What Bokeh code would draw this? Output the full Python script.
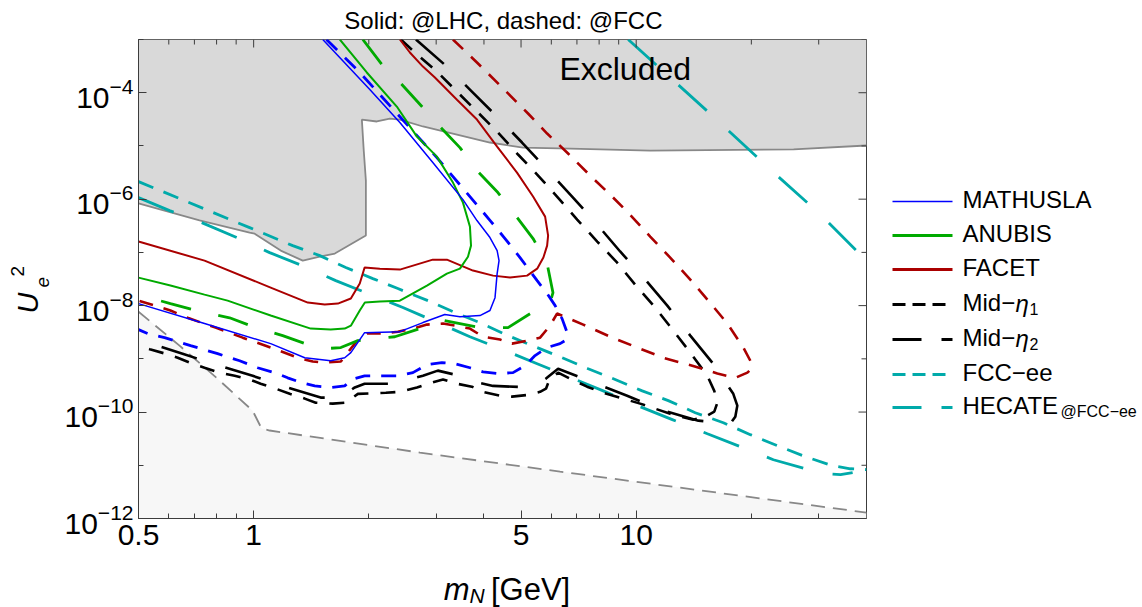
import math
from bokeh.plotting import figure
from bokeh.models import Range1d, FixedTicker, LogTickFormatter, CustomJSTickFormatter, Label
from bokeh.layouts import row, column
from bokeh.embed import file_html
from bokeh.resources import INLINE
from bokeh.core.properties import value

FONT = "Liberation Sans"

# ---------------- axes / ticks ----------------
x_ticks = [0.5, 1, 5, 10]
x_minor = [0.6, 0.7, 0.8, 0.9, 2, 3, 4, 6, 7, 8, 9, 20, 30]
y_ticks = [1e-12, 1e-10, 1e-8, 1e-6, 1e-4]
y_minor = [1e-11, 1e-9, 1e-7, 1e-5, 1e-3]
X_MIN, X_MAX, Y_MIN, Y_MAX = 0.5, 40, 1e-12, 1e-3

# ---------------- data (m_N [GeV], U_e^2) ----------------
excl_m = [0.5, 0.722, 0.976, 1.006, 1.177, 1.344, 1.489, 1.63, 1.965, 1.965, 1.94, 1.918, 2.099, 2.27,
          2.411, 2.77, 3.40, 4.147, 5.06, 6.72, 10.88, 25.8, 40]
excl_u = [8.3e-7, 4.0e-7, 2.35e-7, 2.25e-7, 1.08e-7, 7.0e-8, 8.3e-8, 9.5e-8, 2.07e-7, 2.24e-6, 8.2e-6,
          3.13e-5, 2.88e-5, 3.27e-5, 3.13e-5, 2.32e-5, 1.64e-5, 1.16e-5, 9.3e-6, 8.9e-6, 8.2e-6, 8.6e-6, 1.02e-5]

bbn_m = [0.5, 0.640, 0.80, 0.994, 1.049, 1.101, 2.72, 6.324, 40]
bbn_u = [7.7e-9, 1.77e-9, 4.4e-10, 1.06e-10, 4.9e-11, 4.5e-11, 1.73e-11, 7.6e-12, 1.29e-12]

mathusla_m = [1.516, 2.012, 2.411, 2.94, 3.525, 3.835, 4.147, 4.33, 4.38, 4.33, 4.275, 4.147, 3.905, 3.461,
              3.16, 2.77, 2.411, 1.95, 1.795, 1.73, 1.59, 1.36, 1.108, 0.744, 0.5]
mathusla_u = [1e-3, 1.15e-4, 2.75e-5, 4.9e-6, 9.8e-7, 3.96e-7, 1.9e-7, 1.08e-7, 7.0e-8, 4.0e-8, 1.41e-8,
              8.1e-9, 6.5e-9, 6.2e-9, 6.8e-9, 4.8e-9, 3.24e-9, 3.1e-9, 1.31e-9, 1.05e-9, 9.2e-10, 1.05e-9,
              1.93e-9, 4.6e-9, 1.09e-8]

anubis_m = [1.68, 1.976, 2.367, 2.672, 3.013, 3.319, 3.525, 3.676, 3.70, 3.633, 3.461, 3.20, 2.838, 2.411,
            2.137, 1.953, 1.894, 1.795, 1.73, 1.59, 1.41, 1.108, 0.855, 0.744, 0.606, 0.5]
anubis_u = [1e-3, 2.4e-4, 5.5e-5, 1.5e-5, 6.3e-6, 2.05e-6, 8.6e-7, 3.05e-7, 1.34e-7, 8.3e-8, 4.95e-8, 4.0e-8,
            2.38e-8, 1.24e-8, 1.19e-8, 1.14e-8, 8.1e-9, 4.2e-9, 3.7e-9, 3.54e-9, 3.7e-9, 6.5e-9, 1.24e-8,
            1.61e-8, 2.38e-8, 3.36e-8]

facet_m = [2.411, 2.561, 2.77, 2.977, 3.40, 3.835, 4.33, 4.88, 5.375, 5.78, 5.885, 5.85, 5.72, 5.51, 5.185,
           4.679, 4.225, 3.744, 3.20, 2.94, 2.411, 2.137, 1.95, 1.894, 1.795, 1.66, 1.534, 1.385, 1.108, 0.744, 0.5]
facet_u = [1e-3, 5.7e-4, 3.1e-4, 1.93e-4, 7.4e-5, 3.13e-5, 9.7e-6, 3.16e-6, 1.12e-6, 4.7e-7, 2.07e-7, 1.34e-7,
           8.0e-8, 4.95e-8, 3.66e-8, 3.36e-8, 3.66e-8, 4.55e-8, 7.3e-8, 7.3e-8, 4.75e-8, 4.95e-8, 5.2e-8,
           2.6e-8, 1.36e-8, 1.09e-8, 1.05e-8, 1.14e-8, 2.18e-8, 7.0e-8, 1.6e-7]

mathusla_fcc_m = [1.55, 1.894, 2.382, 3.013, 3.79, 4.173, 4.54, 4.97, 5.51, 5.85, 6.14, 6.40, 6.60, 6.52, 6.324,
                  5.85, 5.44, 5.12, 4.765, 4.35, 3.977, 3.676, 3.36, 3.105, 2.838, 2.608, 2.382, 2.137, 1.95,
                  1.806, 1.73, 1.59, 1.444, 1.328, 1.227, 1.135, 1.024, 0.919, 0.805, 0.684, 0.585, 0.528, 0.5]
mathusla_fcc_u = [1e-3, 2.4e-4, 3.9e-5, 6.05e-6, 8.6e-7, 3.8e-7, 1.82e-7, 8.0e-8, 2.95e-8, 1.68e-8, 1.0e-8,
                  5.7e-9, 3.1e-9, 2.2e-9, 1.93e-9, 1.63e-9, 1.15e-9, 7.4e-10, 5.5e-10, 5.3e-10, 5.7e-10, 6.8e-10,
                  8.1e-10, 8.5e-10, 7.8e-10, 5.5e-10, 4.8e-10, 4.8e-10, 4.8e-10, 4.1e-10, 3.1e-10, 2.9e-10,
                  3.1e-10, 3.6e-10, 4.4e-10, 5.5e-10, 6.8e-10, 9.2e-10, 1.25e-9, 1.77e-9, 2.5e-9, 3.0e-9, 3.54e-9]

anubis_fcc_m = [1.929, 2.163, 2.44, 2.753, 3.068, 3.461, 3.858, 4.35, 4.823, 5.375, 5.85, 6.06, 5.955, 5.34,
                4.624, 3.905, 3.126, 2.77, 2.34, 2.074, 1.873, 1.69, 1.55, 1.41, 1.191, 1.012, 0.865, 0.727,
                0.606, 0.5]
anubis_fcc_u = [1e-3, 3.4e-4, 1.43e-4, 5.5e-5, 2.32e-5, 9.3e-6, 3.3e-6, 1.33e-6, 5.1e-7, 1.82e-7, 6.15e-8,
                1.75e-8, 1.14e-8, 7.4e-9, 3.86e-9, 3.86e-9, 5.3e-9, 3.86e-9, 2.6e-9, 2.4e-9, 2.2e-9, 1.63e-9,
                1.56e-9, 1.77e-9, 2.73e-9, 3.86e-9, 5.9e-9, 7.7e-9, 1.09e-8, 1.61e-8]

facet_fcc_m = [3.318, 3.835, 4.624, 5.215, 5.85, 6.637, 7.578, 8.55, 9.64, 10.88, 12.27, 13.85, 15.44, 17.31,
               19.06, 19.88, 20.0, 19.53, 18.16, 16.3, 14.02, 11.77, 10.06, 8.55, 7.27, 6.60, 6.21, 5.955,
               5.607, 5.215, 4.735, 4.405, 3.977, 3.676, 3.36, 3.126, 2.838, 2.608, 2.382, 2.216, 1.988, 1.906,
               1.838, 1.69, 1.534, 1.427, 1.304, 1.108, 0.936, 0.795, 0.672, 0.606, 0.5]
facet_fcc_u = [1e-3, 3.7e-4, 9.7e-5, 4.07e-5, 1.71e-5, 7.2e-6, 2.78e-6, 1.22e-6, 5.1e-7, 1.98e-7, 8.0e-8,
               3.08e-8, 1.24e-8, 4.6e-9, 1.63e-9, 9.2e-10, 6.5e-10, 5.5e-10, 4.4e-10, 5.3e-10, 7.4e-10, 1.05e-9,
               1.63e-9, 2.6e-9, 4.4e-9, 5.9e-9, 7.1e-9, 4.2e-9, 2.5e-9, 2.2e-9, 1.93e-9, 2.3e-9, 2.6e-9, 3.7e-9,
               4.2e-9, 4.6e-9, 4.4e-9, 3.7e-9, 3.24e-9, 3.0e-9, 3.0e-9, 2.5e-9, 1.93e-9, 8.9e-10, 8.5e-10,
               8.9e-10, 1.05e-9, 1.63e-9, 2.5e-9, 3.86e-9, 5.9e-9, 8.1e-9, 1.24e-8]

mid_eta1_m = [2.426, 2.64, 3.013, 3.40, 3.858, 4.35, 4.91, 5.51, 6.21, 7.01, 7.91, 8.92, 9.94, 11.21, 12.50,
              13.85, 15.35, 16.0, 16.3, 16.0, 15.16, 14.1, 13.04, 12.27, 10.24, 8.20, 7.44, 6.718, 6.25, 5.92,
              5.81, 5.607, 5.215, 4.735, 4.405, 3.977, 3.72, 3.40, 3.126, 2.855, 2.672, 2.411, 2.216, 1.873,
              1.741, 1.61, 1.453, 1.36, 1.242, 1.142, 1.043, 0.976, 0.892, 0.815, 0.744, 0.692, 0.633, 0.588,
              0.538, 0.5]
mid_eta1_u = [1e-3, 5.7e-4, 2.5e-4, 1.05e-4, 4.25e-5, 1.79e-5, 6.9e-6, 2.9e-6, 1.12e-6, 4.14e-7, 1.6e-7,
              6.4e-8, 2.48e-8, 9.2e-9, 3.4e-9, 1.31e-9, 4.8e-10, 2.5e-10, 1.5e-10, 1.02e-10, 8.2e-11, 7.2e-11,
              8.2e-11, 9.3e-11, 1.44e-10, 2.3e-10, 3.0e-10, 4.25e-10, 5.5e-10, 3.9e-10, 2.75e-10, 2.4e-10,
              2.1e-10, 1.95e-10, 2.03e-10, 2.4e-10, 3.0e-10, 3.4e-10, 4.1e-10, 3.4e-10, 2.9e-10, 2.4e-10,
              2.3e-10, 2.2e-10, 1.5e-10, 1.44e-10, 1.5e-10, 1.79e-10, 2.2e-10, 2.75e-10, 3.4e-10, 4.1e-10,
              4.8e-10, 5.5e-10, 6.8e-10, 8.1e-10, 1.05e-9, 1.25e-9, 1.49e-9, 1.77e-9]

mid_eta2_m = [2.656, 3.20, 3.72, 4.35, 5.03, 5.85, 6.80, 7.91, 9.08, 10.56, 12.06, 13.85, 15.81, 17.94, 18.38,
              18.16, 17.62, 14.54, 11.56, 9.47, 7.72, 6.97, 6.25, 5.81, 5.34, 4.225, 3.79, 3.461, 3.03, 2.77,
              2.411, 2.27, 1.95, 1.838, 1.68, 1.497, 1.206, 0.994, 0.795, 0.652, 0.561, 0.5]
mid_eta2_u = [1e-3, 3.1e-4, 1.05e-4, 3.42e-5, 1.16e-5, 3.6e-6, 1.12e-6, 3.33e-7, 1.04e-7, 3.08e-8, 1.0e-8,
              2.73e-9, 8.5e-10, 2.2e-10, 1.32e-10, 8.2e-11, 6.05e-11, 6.9e-11, 1.11e-10, 2.03e-10, 3.6e-10,
              4.8e-10, 6.5e-10, 4.25e-10, 2.9e-10, 3.1e-10, 3.7e-10, 4.8e-10, 6.0e-10, 4.8e-10, 3.7e-10,
              3.4e-10, 3.4e-10, 2.9e-10, 1.87e-10, 1.87e-10, 3.0e-10, 4.8e-10, 7.8e-10, 1.25e-9, 1.77e-9, 2.2e-9]

fcc_ee_m = [0.5, 0.976, 1.265, 1.489, 1.741, 2.049, 2.382, 2.855, 3.36, 3.953, 4.624, 5.44, 6.40, 7.49, 8.81,
            10.37, 12.13, 14.27, 16.9, 19.88, 23.39, 27.7, 32.6, 36.3, 40]
fcc_ee_u = [2.14e-6, 2.92e-7, 1.34e-7, 8.7e-8, 5.2e-8, 3.22e-8, 2.09e-8, 1.24e-8, 7.4e-9, 4.6e-9, 2.73e-9,
            1.69e-9, 1.05e-9, 6.5e-10, 4.1e-10, 2.5e-10, 1.64e-10, 9.7e-11, 6.3e-11, 3.76e-11, 2.33e-11,
            1.45e-11, 9.8e-12, 8.6e-12, 8.3e-12]

hecate_m = [0.5, 0.603, 0.731, 0.903, 1.101, 1.36, 1.639, 2.024, 2.455, 3.03, 3.676, 4.54, 5.51, 6.84, 8.2,
            10.24, 12.43, 15.35, 18.72, 22.84, 28.2, 31.25, 34.2, 36.8]
hecate_u = [1.07e-6, 6.1e-7, 3.63e-7, 1.9e-7, 9.9e-8, 5.4e-8, 2.95e-8, 1.61e-8, 9.2e-9, 4.8e-9, 2.6e-9,
            1.43e-9, 8.1e-10, 4.25e-10, 2.5e-10, 1.26e-10, 7.2e-11, 3.9e-11, 2.24e-11, 1.27e-11, 8.3e-12,
            6.95e-12, 6.65e-12, 7.3e-12]
hecate_hi_m = [9.53, 15.9, 22.43, 29.95, 40]
hecate_hi_u = [1e-3, 3.57e-5, 3.6e-6, 5.6e-7, 7.0e-8]

BLUE, GREEN, RED, BLACK, CYAN = "#0000ff", "#00aa00", "#aa0000", "#000000", "#00aaaa"
AX = "#3c3c3c"

# page layout (pixels): frame spans x 138..866, y 39..518
PX_DEC_X = 382.0   # px per decade on x
PX_DEC_Y = 53.2    # px per decade on y
LEFT_W, MAIN_W, LEG_W = 60, 818, 264
TITLE_H, MAIN_H, XLAB_H = 38, 529, 40
PAGE_H = TITLE_H + MAIN_H + XLAB_H
STRIP_DX = 91      # page x of a strip's local origin, as observed for the stacked strips


def blank(w, h):
    f = figure(width=w, height=h, x_range=Range1d(0, w), y_range=Range1d(0, h),
               output_backend="svg", toolbar_location=None, min_border=0,
               x_axis_location=None, y_axis_location=None)
    f.grid.visible = False
    f.outline_line_color = None
    return f


# ---------------- main figure ----------------
p = figure(width=MAIN_W, height=MAIN_H, x_axis_type="log", y_axis_type="log",
           x_range=Range1d(X_MIN, X_MAX), y_range=Range1d(Y_MIN, Y_MAX),
           output_backend="svg", toolbar_location=None,
           min_border_left=138 - LEFT_W, min_border_right=12, min_border_top=1, min_border_bottom=49)
p.grid.visible = False
p.outline_line_color = AX
p.background_fill_color = "white"
p.border_fill_color = "white"

# shaded regions
p.patch(excl_m + [X_MAX, X_MIN], excl_u + [Y_MAX, Y_MAX], fill_color="#d9d9d9", line_color=None)
p.patch(bbn_m + [X_MAX, X_MIN], bbn_u + [Y_MIN, Y_MIN], fill_color="#f7f7f7", line_color=None)
p.line(excl_m, excl_u, line_color="#888888", line_width=1.8)
p.line(bbn_m, bbn_u, line_color="#888888", line_width=1.8, line_dash="14 8")

curves = [
    (hecate_m, hecate_u, CYAN, 2.8, "38 30"),
    (hecate_hi_m, hecate_hi_u, CYAN, 2.8, "38 30"),
    (fcc_ee_m, fcc_ee_u, CYAN, 2.8, "16 11"),
    (mid_eta2_m, mid_eta2_u, BLACK, 2.6, "37 30"),
    (mid_eta1_m, mid_eta1_u, BLACK, 2.6, "15 12"),
    (facet_fcc_m, facet_fcc_u, RED, 2.6, "14 11"),
    (anubis_fcc_m, anubis_fcc_u, GREEN, 2.8, "31 28"),
    (mathusla_fcc_m, mathusla_fcc_u, BLUE, 2.8, "15 11"),
    (facet_m, facet_u, RED, 2.0, "solid"),
    (anubis_m, anubis_u, GREEN, 2.0, "solid"),
    (mathusla_m, mathusla_u, BLUE, 1.5, "solid"),
]
for xm, yu, col, lw, dash in curves:
    p.line(xm, yu, line_color=col, line_width=lw, line_dash=dash)

# axes (ticks point inward, like a Mathematica frame)
p.xaxis.ticker = FixedTicker(ticks=x_ticks, minor_ticks=x_minor)
p.xaxis.formatter = CustomJSTickFormatter(code="return tick.toString();")
p.yaxis.ticker = FixedTicker(ticks=y_ticks, minor_ticks=y_minor)
p.yaxis.formatter = LogTickFormatter()
for ax in (p.xaxis[0], p.yaxis[0]):
    ax.major_tick_in = 8
    ax.major_tick_out = 0
    ax.minor_tick_in = 5
    ax.minor_tick_out = 0
    ax.axis_line_color = AX
    ax.major_tick_line_color = AX
    ax.minor_tick_line_color = AX
    ax.major_label_text_font = FONT
    ax.major_label_text_color = "black"
    ax.major_label_text_font_size = "30px"
p.xaxis.major_label_standoff = 6
p.yaxis.major_label_standoff = 5


# mirrored inward ticks on the top and right frame edges
def inward_y(px):
    return Y_MAX * 10 ** (-px / PX_DEC_Y)


def inward_x(px):
    return X_MAX * 10 ** (-px / PX_DEC_X)


p.segment(x0=x_ticks, y0=[Y_MAX] * len(x_ticks), x1=x_ticks, y1=[inward_y(8)] * len(x_ticks),
          line_color=AX, line_width=1)
p.segment(x0=x_minor, y0=[Y_MAX] * len(x_minor), x1=x_minor, y1=[inward_y(5)] * len(x_minor),
          line_color=AX, line_width=1)
p.segment(x0=[X_MAX] * len(y_ticks), y0=y_ticks, x1=[inward_x(8)] * len(y_ticks), y1=y_ticks,
          line_color=AX, line_width=1)
p.segment(x0=[X_MAX] * len(y_minor), y0=y_minor, x1=[inward_x(5)] * len(y_minor), y1=y_minor,
          line_color=AX, line_width=1)

p.add_layout(Label(x=9.36, y=2.79e-4, text="Excluded", text_font=FONT, text_font_size="32px",
                   text_align="center", text_baseline="middle", text_color="black"))

# ---------------- title strip ----------------
title_fig = blank(MAIN_W, TITLE_H)
title_fig.text(x=[501 - STRIP_DX], y=[TITLE_H - 19.5], text=["Solid: @LHC, dashed: @FCC"],
               text_font=value(FONT), text_font_size=value("24px"), text_align="center",
               text_baseline="middle", text_color="black")

# ---------------- x-axis label strip:  m_N [GeV] ----------------
xlab = blank(MAIN_W, XLAB_H)
xlab.text(x=[434 - STRIP_DX], y=[18], text=["m"], text_font=value(FONT), text_font_size=value("31px"),
          text_font_style="italic", text_baseline="middle")
xlab.text(x=[463 - STRIP_DX], y=[12], text=["N"], text_font=value(FONT), text_font_size=value("21px"),
          text_font_style="italic", text_baseline="middle")
xlab.text(x=[487 - STRIP_DX], y=[18], text=["[GeV]"], text_font=value(FONT), text_font_size=value("31px"),
          text_baseline="middle")

# ---------------- y-axis label strip:  U_e^2 (rotated) ----------------
ylab = blank(LEFT_W, PAGE_H)
ylab.text(x=[27], y=[PAGE_H - 313], text=["U"], text_font=value(FONT), text_font_size=value("29px"),
          text_font_style="italic", text_baseline="middle", angle=math.pi / 2)
ylab.text(x=[42], y=[PAGE_H - 287], text=["e"], text_font=value(FONT), text_font_size=value("19px"),
          text_font_style="italic", text_baseline="middle", angle=math.pi / 2)
ylab.text(x=[17], y=[PAGE_H - 276], text=["2"], text_font=value(FONT), text_font_size=value("19px"),
          text_baseline="middle", angle=math.pi / 2)

# ---------------- legend strip ----------------
leg = figure(width=LEG_W, height=PAGE_H, x_range=Range1d(0, LEG_W), y_range=Range1d(PAGE_H, 0),
             output_backend="svg", toolbar_location=None, min_border=0,
             x_axis_location=None, y_axis_location=None)
leg.grid.visible = False
leg.outline_line_color = None

leg_names = ["MATHUSLA", "ANUBIS", "FACET", "Mid\u2212", "Mid\u2212", "FCC\u2212ee", "HECATE"]
leg_colors = [BLUE, GREEN, RED, BLACK, BLACK, CYAN, CYAN]
leg_widths = [1.5, 3, 3, 3, 3, 3, 3]
leg_dash = ["solid", "solid", "solid", "13 7", "29 20", "13 7", "29 20"]
leg_rows = [201, 235, 269, 304, 339, 374, 407]

for c, w, d, yy in zip(leg_colors, leg_widths, leg_dash, leg_rows):
    leg.line([14, 74], [yy, yy], line_color=c, line_width=w, line_dash=d)
leg.text(x=[84] * 7, y=[r - 2.5 for r in leg_rows], text=leg_names, text_font=value(FONT),
         text_font_size=value("24px"), text_baseline="middle", text_align="left", text_color="black")
leg.text(x=[137, 137], y=[leg_rows[3] - 1, leg_rows[4] - 1], text=["\u03b7", "\u03b7"],
         text_font=value(FONT), text_font_size=value("24px"), text_font_style="italic",
         text_baseline="middle")
leg.text(x=[151, 151], y=[leg_rows[3] + 4, leg_rows[4] + 4], text=["1", "2"], text_font=value(FONT),
         text_font_size=value("16px"), text_baseline="middle")
leg.text(x=[182], y=[leg_rows[6] + 4], text=["@FCC\u2212ee"], text_font=value(FONT),
         text_font_size=value("16px"), text_baseline="middle")

layout = row(ylab, column(title_fig, p, xlab), leg)
open("out.html", "w").write(file_html(layout, INLINE))
